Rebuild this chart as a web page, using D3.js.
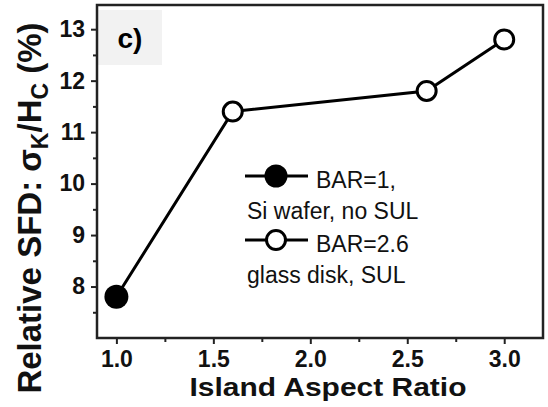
<!DOCTYPE html>
<html>
<head>
<meta charset="utf-8">
<script src="https://cdn.jsdelivr.net/npm/d3@7"></script>
<style>
  body { margin: 0; background: #fff; }
  svg text { font-family: "Liberation Sans", Arial, sans-serif; }
</style>
</head>
<body>
<svg id="chart" width="548" height="407"></svg>
<script>
// data
const aspectRatio = [1.0, 1.6, 2.6, 3.0]
const relativeSFD = [7.8, 11.4, 11.8, 12.8]
const substrate = ['Si wafer', 'glass disk', 'glass disk', 'glass disk'] // filled = Si wafer
const xMajorTicks = [1.0, 1.5, 2.0, 2.5, 3.0]
const xMinorTicks = [1.25, 1.75, 2.25, 2.75]
const yMajorTicks = [8, 9, 10, 11, 12, 13]
const yMinorTicks = [7.5, 8.5, 9.5, 10.5, 11.5, 12.5]
const legendLabels = [['BAR=1,', 'Si wafer, no SUL'], ['BAR=2.6', 'glass disk, SUL']]

const margin = { left: 97, right: 5, top: 5, bottom: 69 }
const size = { width: 548, height: 407 }

const svg = d3.select('#chart')

const xScale = d3.scaleLinear()
    .domain([0.9, 3.2])
    .range([margin.left, size.width - margin.right])
const yScale = d3.scaleLinear()
    .domain([7, 13.47])
    .range([size.height - margin.bottom, margin.top])

const points = aspectRatio.map((d, i) => ({ x: d, y: relativeSFD[i], filled: substrate[i] === 'Si wafer' }))

// panel tag "c)" on grey patch
svg.append('rect')
    .attr('x', margin.left + 1).attr('y', 10)
    .attr('width', 64).attr('height', 55)
    .attr('fill', '#f2f2f2')
svg.append('text')
    .attr('x', 130).attr('y', 48)
    .attr('text-anchor', 'middle')
    .style('font-size', '28px').style('font-weight', 'bold')
    .text('c)')

// axes (ticks outward, frame drawn separately)
const tickFont = g => g.selectAll('text')
    .style('font-size', '23px').style('font-weight', 'bold')
    .attr('fill', '#111')

const xAxis = svg.append('g')
    .attr('transform', `translate(0, ${yScale.range()[0]})`)
    .call(d3.axisBottom(xScale).tickValues(xMajorTicks).tickSize(6).tickPadding(7).tickFormat(d3.format('.1f')))
    .call(tickFont)
svg.append('g')
    .attr('transform', `translate(0, ${yScale.range()[0]})`)
    .call(d3.axisBottom(xScale).tickValues(xMinorTicks).tickSize(4).tickFormat(''))

const yAxis = svg.append('g')
    .attr('transform', `translate(${margin.left}, 0)`)
    .call(d3.axisLeft(yScale).tickValues(yMajorTicks).tickSize(6).tickPadding(6).tickFormat(d3.format('d')))
    .call(tickFont)
svg.append('g')
    .attr('transform', `translate(${margin.left}, 0)`)
    .call(d3.axisLeft(yScale).tickValues(yMinorTicks).tickSize(4).tickFormat(''))

svg.selectAll('.domain').remove()
svg.selectAll('.tick line').attr('stroke', '#222').attr('stroke-width', 2)

// frame
svg.append('rect')
    .attr('x', xScale.range()[0]).attr('y', yScale.range()[1])
    .attr('width', xScale.range()[1] - xScale.range()[0])
    .attr('height', yScale.range()[0] - yScale.range()[1])
    .attr('fill', 'none').attr('stroke', '#222').attr('stroke-width', 2.5)

// axis labels
svg.append('text')
    .attr('x', 328).attr('y', 396)
    .attr('text-anchor', 'middle')
    .attr('textLength', 277).attr('lengthAdjust', 'spacingAndGlyphs')
    .style('font-size', '25px').style('font-weight', 'bold')
    .attr('fill', '#111')
    .text('Island Aspect Ratio')

const yLabel = svg.append('text')
    .attr('transform', 'translate(41, 208) rotate(-90)')
    .attr('text-anchor', 'middle')
    .style('font-size', '33px').style('font-weight', 'bold')
    .attr('fill', '#111')
yLabel.append('tspan').text('Relative SFD: σ')
yLabel.append('tspan').attr('dy', 7).style('font-size', '23px').text('K')
yLabel.append('tspan').attr('dy', -7).text('/H')
yLabel.append('tspan').attr('dy', 7).style('font-size', '23px').text('C')
yLabel.append('tspan').attr('dy', -7).text(' (%)')

// data line + markers
const line = d3.line().x(d => xScale(d.x)).y(d => yScale(d.y))
svg.append('path')
    .datum(points)
    .attr('d', line)
    .attr('fill', 'none').attr('stroke', '#000').attr('stroke-width', 3)

svg.append('g')
    .selectAll('circle')
    .data(points)
    .join('circle')
    .attr('cx', d => xScale(d.x))
    .attr('cy', d => yScale(d.y))
    .attr('r', d => d.filled ? 12 : 9.5)
    .attr('fill', d => d.filled ? '#000' : '#fff')
    .attr('stroke', '#000')
    .attr('stroke-width', d => d.filled ? 0 : 3)

// legend
const legend = svg.append('g')
const legendRows = [{ y: 176, filled: true }, { y: 240, filled: false }]
legendRows.forEach((row, i) => {
    legend.append('line')
        .attr('x1', 245).attr('x2', 308)
        .attr('y1', row.y).attr('y2', row.y)
        .attr('stroke', '#000').attr('stroke-width', 3)
    legend.append('circle')
        .attr('cx', 276).attr('cy', row.y)
        .attr('r', row.filled ? 11.5 : 9.5)
        .attr('fill', row.filled ? '#000' : '#fff')
        .attr('stroke', '#000').attr('stroke-width', row.filled ? 0 : 3)
    legend.append('text')
        .attr('x', 316).attr('y', row.y + 12)
        .style('font-size', '23px')
        .attr('fill', '#111')
        .text(legendLabels[i][0])
    legend.append('text')
        .attr('x', 247).attr('y', row.y + 43)
        .style('font-size', '23px')
        .attr('fill', '#111')
        .text(legendLabels[i][1])
})
</script>
</body>
</html>
